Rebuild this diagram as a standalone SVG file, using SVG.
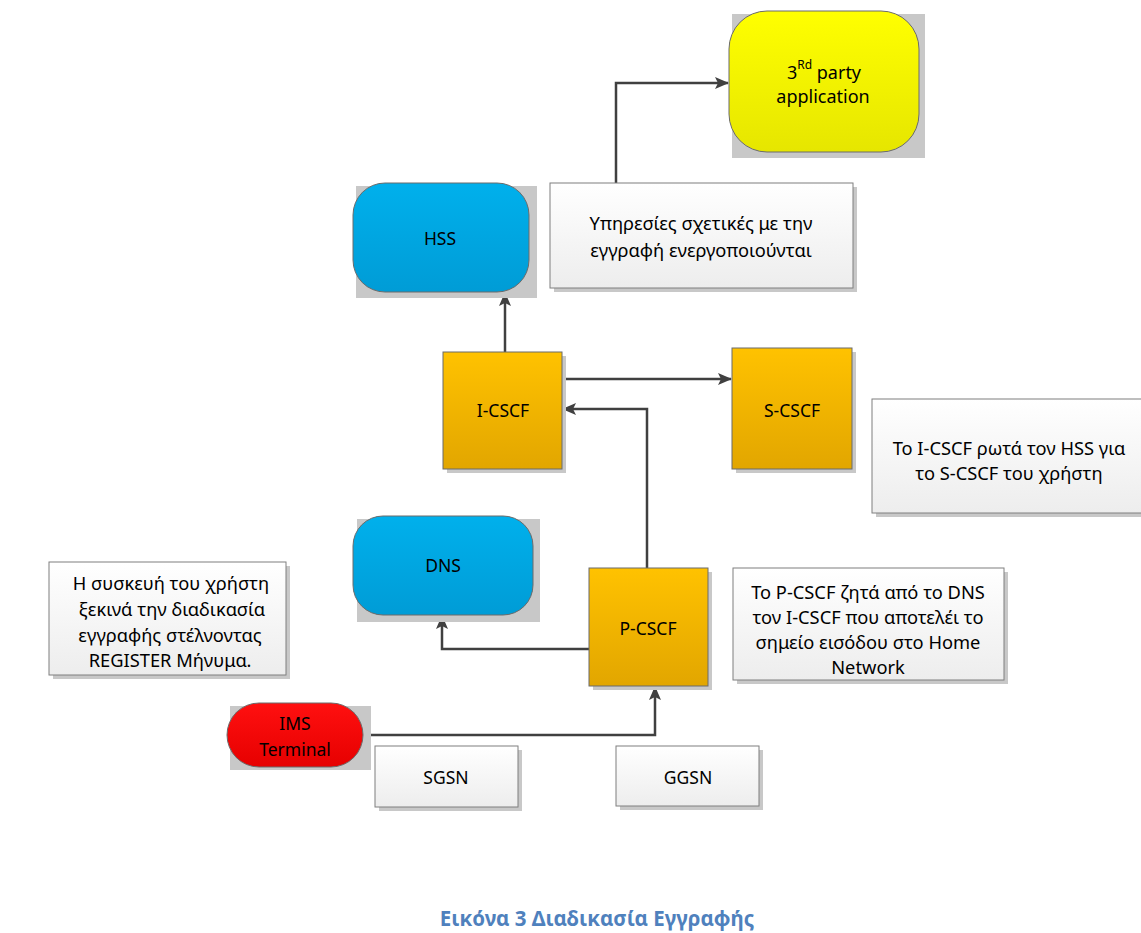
<svg xmlns="http://www.w3.org/2000/svg" width="1141" height="933" viewBox="0 0 1141 933">
<defs>
<linearGradient id="gY" x1="0" y1="0" x2="0" y2="1"><stop offset="0" stop-color="#FFFF00"/><stop offset="1" stop-color="#E6E600"/></linearGradient>
<linearGradient id="gB" x1="0" y1="0" x2="0" y2="1"><stop offset="0" stop-color="#00B0EC"/><stop offset="1" stop-color="#009CD6"/></linearGradient>
<linearGradient id="gO" x1="0" y1="0" x2="0" y2="1"><stop offset="0" stop-color="#FFC200"/><stop offset="1" stop-color="#E2A600"/></linearGradient>
<linearGradient id="gR" x1="0" y1="0" x2="0" y2="1"><stop offset="0" stop-color="#FF1010"/><stop offset="1" stop-color="#E60000"/></linearGradient>
<linearGradient id="gW" x1="0" y1="0" x2="0" y2="1"><stop offset="0" stop-color="#FFFFFF"/><stop offset="1" stop-color="#EDEDED"/></linearGradient>
<marker id="ah" viewBox="0 0 14 12" refX="13" refY="6" markerWidth="14" markerHeight="12" markerUnits="userSpaceOnUse" orient="auto">
<path d="M0,0 L14,6 L0,12 L3,6 Z" fill="#404040"/>
</marker>
</defs>
<style>
text{font-family:"Noto Sans","Open Sans","DejaVu Sans",sans-serif;fill:#000;text-anchor:middle;dominant-baseline:central}
.shadow{fill:#C8C8C8}
.node{stroke:#6B6B6B;stroke-width:1}
.box{fill:url(#gW);stroke:#7F7F7F;stroke-width:1}
.t{font-size:18.3px}
.n{font-size:17.5px}
.conn{fill:none;stroke:#404040;stroke-width:2.5;marker-end:url(#ah)}
.cap{font-size:20.5px;font-weight:bold;fill:#4F81BD}
</style>
<rect width="1141" height="933" fill="#FFFFFF"/>

<g id="connectors">
<path class="conn" d="M616,183 V83 H728"/>
<path class="conn" d="M505,352 V293"/>
<path class="conn" d="M562,379 H731"/>
<path class="conn" d="M647,568 V409 H563"/>
<path class="conn" d="M589,649 H442 V616"/>
<path class="conn" d="M363,735 H655 V687"/>
</g>

<g id="third-party">
<rect class="shadow" x="732" y="14" width="193" height="144"/>
<rect class="node" x="729" y="11" width="190" height="141" rx="38" ry="38" fill="url(#gY)"/>
<text x="824" y="72" style="font-size:18px"><tspan>3</tspan><tspan font-size="12" dy="-8">Rd</tspan><tspan dy="8"> party</tspan></text>
<text x="823" y="96" style="font-size:18px">application</text>
</g>

<g id="hss">
<rect class="shadow" x="356" y="186" width="181" height="112"/>
<rect class="node" x="353" y="183" width="176" height="109" rx="32" ry="32" fill="url(#gB)"/>
<text class="n" x="440" y="238">HSS</text>
</g>

<g id="services-box">
<rect class="shadow" x="554" y="187" width="303" height="105"/>
<rect class="box" x="550" y="183" width="303" height="105"/>
<text class="t" x="701" y="222">Υπηρεσίες σχετικές με την</text>
<text class="t" x="701" y="249">εγγραφή ενεργοποιούνται</text>
</g>

<g id="i-cscf">
<rect class="shadow" x="447" y="356" width="119" height="117"/>
<rect class="node" x="443" y="352" width="119" height="117" fill="url(#gO)"/>
<text class="n" x="503" y="410">I-CSCF</text>
</g>

<g id="s-cscf">
<rect class="shadow" x="736" y="352" width="120" height="121"/>
<rect class="node" x="732" y="348" width="120" height="121" fill="url(#gO)"/>
<text class="n" x="792" y="410">S-CSCF</text>
</g>

<g id="icscf-note">
<rect class="shadow" x="876" y="403" width="270" height="114"/>
<rect class="box" x="872" y="399" width="275" height="114"/>
<text class="t" x="1009" y="447">Το I-CSCF ρωτά τον HSS για</text>
<text class="t" x="1009" y="472">το S-CSCF του χρήστη</text>
</g>

<g id="dns">
<rect class="shadow" x="357" y="519" width="183" height="103"/>
<rect class="node" x="353" y="516" width="180" height="99" rx="30" ry="30" fill="url(#gB)"/>
<text class="n" x="443" y="565">DNS</text>
</g>

<g id="terminal-note">
<rect class="shadow" x="53" y="566" width="237" height="113"/>
<rect class="box" x="49" y="562" width="237" height="113"/>
<text class="t" x="171" y="582">Η συσκευή του χρήστη</text>
<text class="t" x="172" y="608">ξεκινά την διαδικασία</text>
<text class="t" x="170" y="634">εγγραφής στέλνοντας</text>
<text class="t" x="170" y="659">REGISTER Μήνυμα.</text>
</g>

<g id="p-cscf">
<rect class="shadow" x="593" y="572" width="119" height="118"/>
<rect class="node" x="589" y="568" width="119" height="118" fill="url(#gO)"/>
<text class="n" x="648" y="628">P-CSCF</text>
</g>

<g id="pcscf-note">
<rect class="shadow" x="737" y="572" width="271" height="112"/>
<rect class="box" x="733" y="568" width="271" height="112"/>
<text class="t" x="868" y="591">Το P-CSCF ζητά από το DNS</text>
<text class="t" x="868" y="616">τον I-CSCF που αποτελέι το</text>
<text class="t" x="868" y="641">σημείο εισόδου στο Home</text>
<text class="t" x="868" y="666">Network</text>
</g>

<g id="ims-terminal">
<rect class="shadow" x="230" y="706" width="141" height="64"/>
<rect class="node" x="227" y="703" width="136" height="64" rx="32" ry="32" fill="url(#gR)"/>
<text class="n" x="295" y="723">IMS</text>
<text class="n" x="295" y="749">Terminal</text>
</g>

<g id="sgsn">
<rect class="shadow" x="379" y="750" width="143" height="61"/>
<rect class="box" x="375" y="746" width="143" height="61"/>
<text class="n" x="446" y="777">SGSN</text>
</g>

<g id="ggsn">
<rect class="shadow" x="620" y="750" width="143" height="60"/>
<rect class="box" x="616" y="746" width="143" height="60"/>
<text class="n" x="688" y="777">GGSN</text>
</g>

<text class="cap" x="597" y="918">Εικόνα 3 Διαδικασία Εγγραφής</text>
</svg>
